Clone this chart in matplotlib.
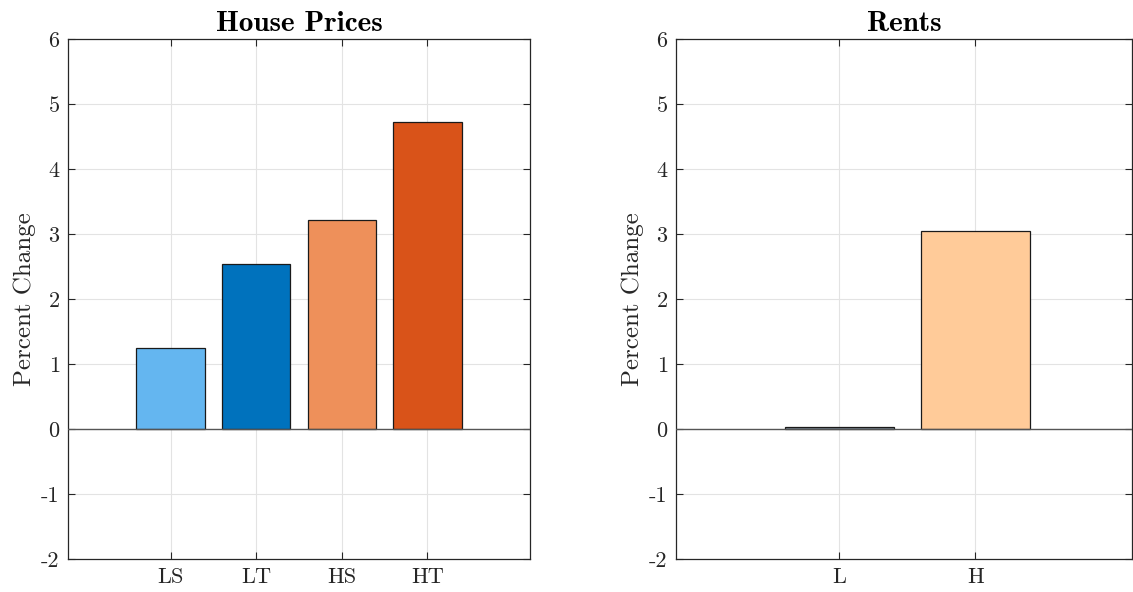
import matplotlib
matplotlib.use("Agg")
import matplotlib.pyplot as plt

# data
price_cats = ["LS", "LT", "HS", "HT"]
price_vals = [1.25, 2.54, 3.21, 4.73]
price_cols = ["#64B6F0", "#0072BD", "#EE905A", "#D95319"]

rent_cats = ["L", "H"]
rent_vals = [0.025, 3.04]
rent_cols = ["#7F8C99", "#FFCB99"]

yticks = [-2, -1, 0, 1, 2, 3, 4, 5, 6]
ytick_labels = ["-2", "-1", "0", "1", "2", "3", "4", "5", "6"]

plt.rcParams['font.family'] = ['cmr10', 'DejaVu Serif']
axcol = "#262626"

fig = plt.figure(figsize=(11.33, 5.92), dpi=100)
W, H = 1133, 592
ax1 = fig.add_axes([68 / W, (H - 559) / H, 462 / W, 520 / H])
ax2 = fig.add_axes([676 / W, (H - 559) / H, 456 / W, 520 / H])


def draw(ax, cats, vals, cols, xmax, title):
    x = list(range(1, len(cats) + 1))
    ax.bar(x, vals, width=0.8, color=cols, edgecolor="#1a1a1a", linewidth=0.9, zorder=3)
    ax.axhline(0, color="#555555", linewidth=1.0, zorder=4)
    ax.set_xlim(-0.2, xmax)
    ax.set_ylim(-2, 6)
    ax.set_xticks(x)
    ax.set_xticklabels(cats, fontsize=16)
    ax.set_yticks(yticks)
    ax.set_yticklabels(ytick_labels, fontsize=16)
    ax.grid(True, color="#E3E3E3", linewidth=0.8, zorder=0)
    ax.tick_params(direction="in", length=5, width=0.8, color=axcol, labelcolor=axcol,
                   top=True, right=True, pad=6)
    for s in ax.spines.values():
        s.set_color(axcol)
        s.set_linewidth(0.9)
    ax.set_ylabel("Percent Change", fontsize=18, color=axcol, labelpad=4)
    ax.set_title(title, fontsize=21, family=['cmb10', 'DejaVu Serif'], fontweight="bold", pad=6)


draw(ax1, price_cats, price_vals, price_cols, 5.2, "House Prices")
draw(ax2, rent_cats, rent_vals, rent_cols, 3.15, "Rents")

fig.savefig("out.png", dpi=100)
